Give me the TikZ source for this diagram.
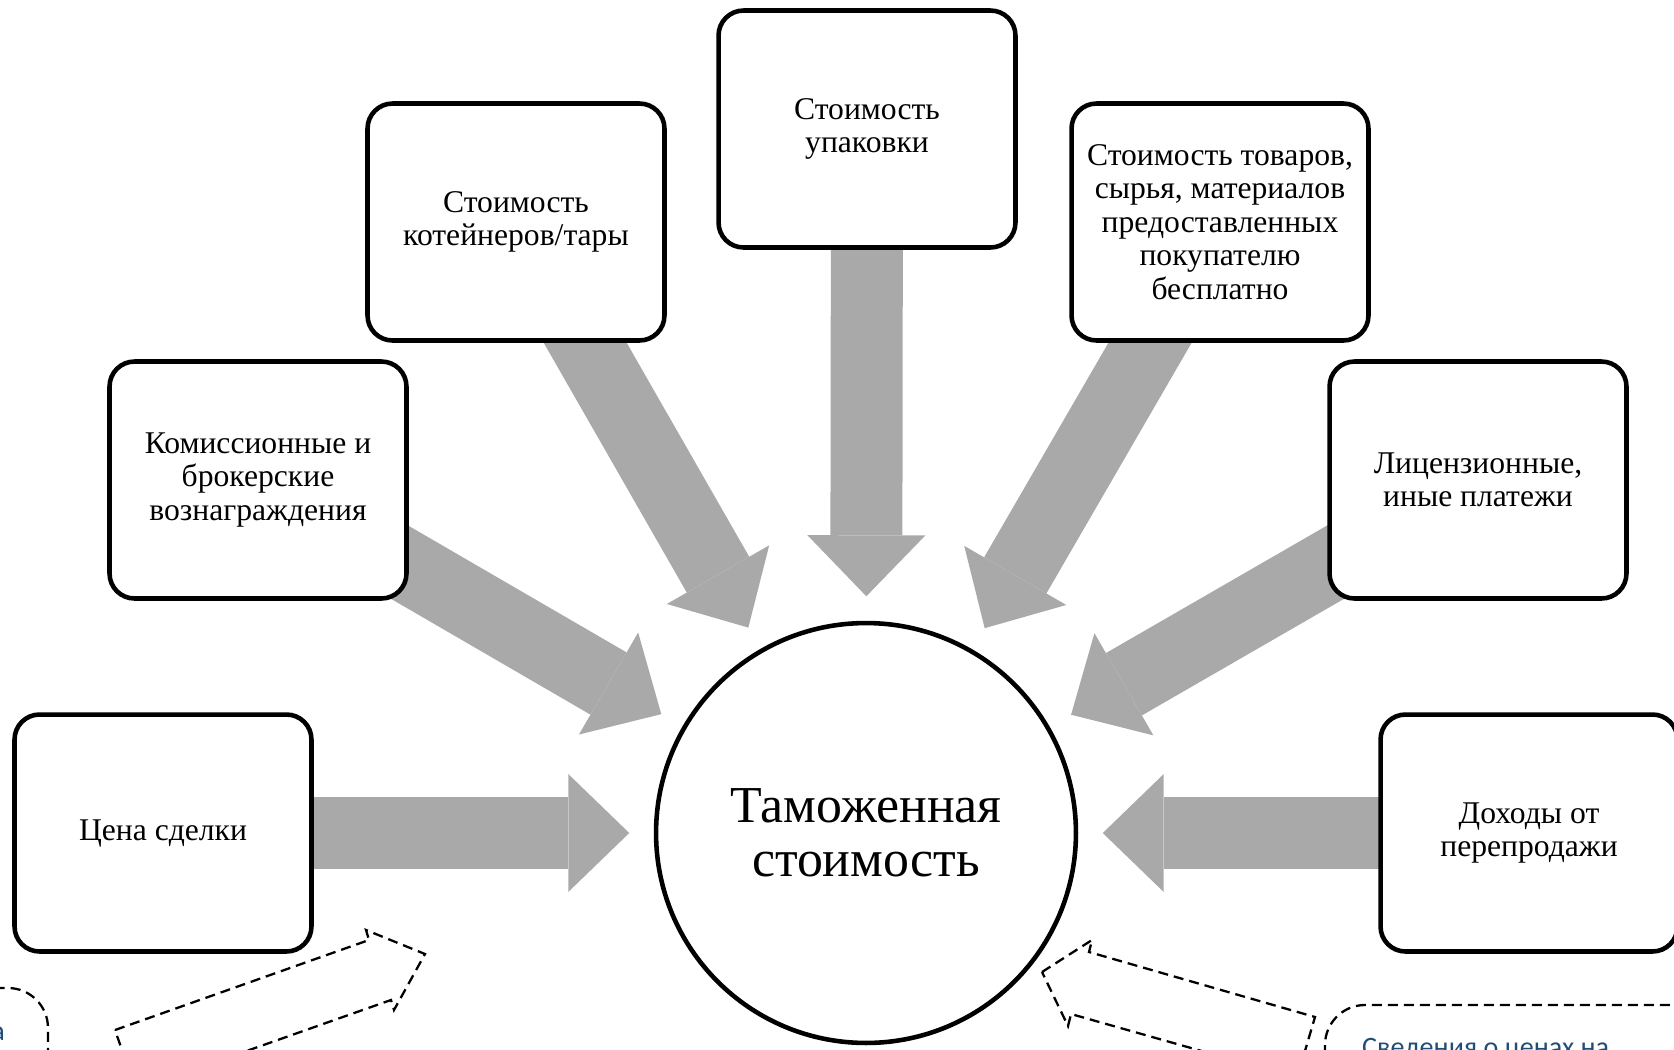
\documentclass[tikz,border=0pt]{standalone}
\usepackage{fontspec}
\setmainfont{Liberation Serif}
\newfontfamily\notefont{Carlito}
\usetikzlibrary{arrows.meta, backgrounds}
\definecolor{arrowgray}{HTML}{A9A9A9}
\definecolor{noteblue}{HTML}{1F4E79}

\begin{document}
\begin{tikzpicture}[x=0.02cm, y=-0.02cm,
  costbox/.style={rectangle, rounded corners=0.5cm, draw, line width=2.6pt, fill=white, minimum width=5.94cm, minimum height=4.74cm, align=center, font=\fontsize{18}{19}\selectfont},
  valuecircle/.style={circle, draw, line width=2.6pt, fill=white, minimum size=8.4cm, align=center, font=\fontsize{29.5}{31}\selectfont},
  bigarrow/.style={draw=arrowgray, line width=1.44cm, shorten >=0.49cm, -{Triangle[length=1.22cm, width=2.36cm, line width=0pt]}},
  dashedarrow/.style={draw, line width=1.3pt, dash pattern=on 0.2cm off 0.12cm},
  notebox/.style={draw, line width=1.3pt, dash pattern=on 0.2cm off 0.12cm, rounded corners=0.8cm},
  notetext/.style={text=noteblue, font=\notefont\fontsize{16}{19}\selectfont}]
\useasboundingbox (0,0) rectangle (1674,1049);
\clip (0,0) rectangle (1674,1049);

% centre and the seven cost items round it
\node (customs) [valuecircle] at (866,833) {Таможенная\\стоимость};
\node (price) [costbox] at (163,833) {Цена сделки};
\node (commission) [costbox] at (258,480) {Комиссионные и\\брокерские\\вознаграждения};
\node (containers) [costbox] at (516,222) {Стоимость\\котейнеров/тары};
\node (packing) [costbox] at (867,129) {Стоимость\\упаковки};
\node (goods) [costbox] at (1220,222) {Стоимость товаров,\\сырья, материалов\\предоставленных\\покупателю\\бесплатно};
\node (license) [costbox] at (1478,480) {Лицензионные,\\иные платежи};
\node (resale) [costbox] at (1529,833) {Доходы от\\перепродажи};

% grey arrows go under the boxes
\begin{scope}[on background layer]
\foreach \src in {price, commission, containers, packing, goods, license, resale}
  \draw[bigarrow] (\src.center) -- (customs);
\end{scope}

% cut-off part below
\draw[notebox] (-400,988) rectangle (48,1300);
\node (notea) [notetext, anchor=base east] at (11,1040) {а};
\draw[dashedarrow] (115,1030) -- (369,940) -- (366,930) -- (425,954) -- (394,1010) -- (391,1000) -- (136,1090) -- cycle;

\draw[notebox] (1325,1005) rectangle (2000,1300);
\node (noteb) [notetext, anchor=base west] at (1356,1056) {Сведения о ценах на};
\draw[dashedarrow] (1042,972) -- (1092,940) -- (1089,952) -- (1315,1017) -- (1297,1078) -- (1071,1014) -- (1068,1026) -- cycle;

\end{tikzpicture}
\end{document}
